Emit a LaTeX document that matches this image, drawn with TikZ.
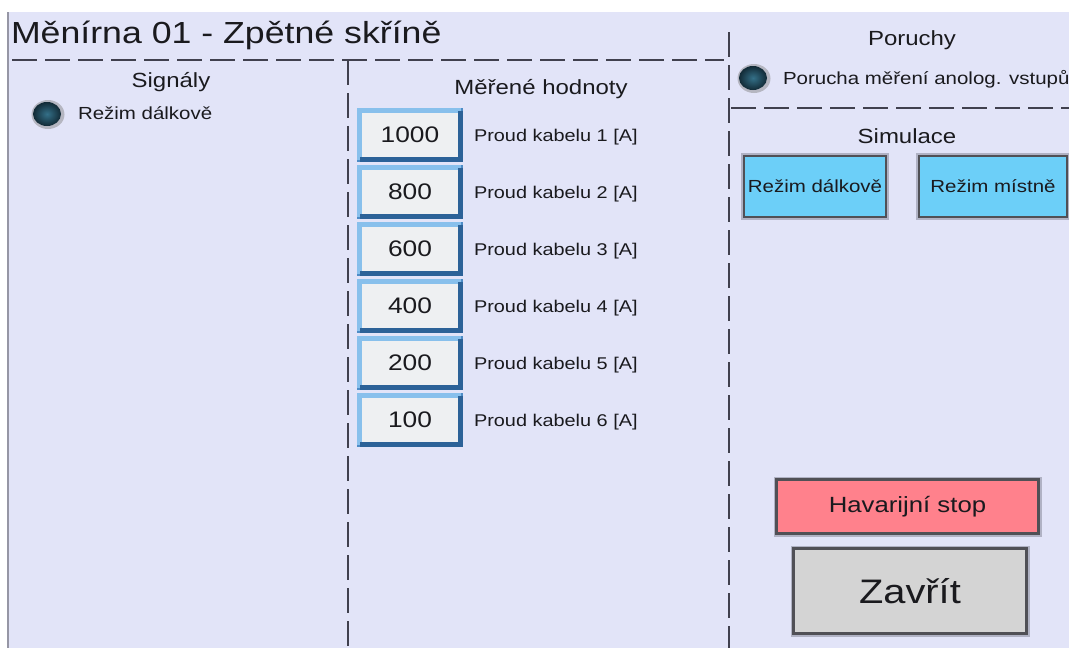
\documentclass[tikz,border=0pt]{standalone}
\usepackage{fontspec}
\setmainfont[FakeStretch=1.17]{Liberation Sans}
\usetikzlibrary{shapes.geometric}
\definecolor{bgcol}{RGB}{226,228,248}
\definecolor{linegray}{RGB}{64,64,78}
\definecolor{edgegray}{RGB}{150,150,165}
\definecolor{txt}{RGB}{26,26,30}
\definecolor{valmid}{RGB}{78,140,198}
\definecolor{vallight}{RGB}{136,192,236}
\definecolor{valdark}{RGB}{44,98,152}
\definecolor{valfill}{RGB}{238,240,242}
\definecolor{btnblue}{RGB}{108,207,248}
\definecolor{btnred}{RGB}{255,129,140}
\definecolor{btngray}{RGB}{212,212,212}
\definecolor{btnedge}{RGB}{80,80,86}
\definecolor{halocol}{RGB}{176,178,196}
\definecolor{ledin}{RGB}{52,112,136}
\definecolor{ledout}{RGB}{18,42,54}
\newcommand\fsz[1]{\fontsize{#1}{#1}\selectfont}
\begin{document}
\begin{tikzpicture}[x=1pt,y=-1pt,
  every node/.style={inner sep=0pt, outer sep=0pt, text=txt},
  sepline/.style={draw=linegray, line width=1.8pt, dash pattern=on 25pt off 8pt},
  headtxt/.style={font=\fsz{20.5}},
  smalltxt/.style={font=\fsz{17.5}},
  ledhalo/.style={ellipse, minimum width=33pt, minimum height=29pt, fill=gray, opacity=0.45},
  ledcore/.style={ellipse, minimum width=28pt, minimum height=24pt, inner color=ledin, outer color=ledout},
  valbox/.style={rectangle, draw=valmid, line width=5pt, fill=valfill, minimum width=101pt, minimum height=49pt, font=\fsz{22.5}},
  bevlight/.style={draw=vallight, line width=5pt},
  bevdark/.style={draw=valdark, line width=5pt},
  btnbox/.style={rectangle, draw=btnedge, line width=2.5pt, preaction={draw=halocol, line width=6pt}},
  simbtn/.style={btnbox, fill=btnblue, minimum height=61pt, font=\fsz{17.5}}
]
\useasboundingbox (0,0) rectangle (1069,648);
\fill[white] (0,0) rectangle (1069,648);
\fill[bgcol] (9,12) rectangle (1069,648);
\draw[edgegray, line width=2pt] (8,12) -- (8,648);

% title
\node[anchor=base west, font=\fsz{30.5}] (title) at (11,43) {Měnírna 01 - Zpětné skříně};

% separators
\coordinate (t1) at (12,60);
\coordinate (t2) at (724,60);
\coordinate (v1a) at (348,60);
\coordinate (v1b) at (348,648);
\coordinate (v2a) at (729,32);
\coordinate (v2b) at (729,648);
\coordinate (h2a) at (731,108);
\coordinate (h2b) at (1069,108);
\draw[sepline] (t1) -- (t2);
\draw[sepline] (v1a) -- (v1b);
\draw[sepline] (v2a) -- (v2b);
\draw[sepline] (h2a) -- (h2b);

% Signaly
\node[headtxt, anchor=base] (signaly) at (171,87) {Signály};
\node[ledhalo] (led1h) at (48,114.5) {};
\node[ledcore] (led1) at (47,114) {};
\node[smalltxt, anchor=base west] (led1t) at (78,119) {Režim dálkově};

% Merene hodnoty
\node[headtxt, anchor=base] (mereni) at (541,94) {Měřené hodnoty};
\foreach \i/\v in {1/1000,2/800,3/600,4/400,5/200,6/100}{
  \pgfmathsetmacro{\ytop}{108+57*(\i-1)}
  \node[valbox] (val\i) at (410,\ytop+27) {\v};
  \draw[bevlight] (val\i.south west) -- (val\i.north west) -- (val\i.north east);
  \draw[bevdark] (val\i.north east) -- (val\i.south east) -- (val\i.south west);
  \node[font=\fsz{17}, anchor=base west] (lab\i) at (474,\ytop+33) {Proud kabelu \i{} [A]};
}

% Poruchy
\node[headtxt, anchor=base] (poruchy) at (912,45) {Poruchy};
\node[ledhalo] (led2h) at (754,78.5) {};
\node[ledcore] (led2) at (753,78) {};
\node[smalltxt, anchor=base west] (led2t) at (783,84) {Porucha měření anolog. vstupů};

% Simulace
\node[headtxt, anchor=base] (simulace) at (907,143) {Simulace};
\node[simbtn, minimum width=142pt] (sim1) at (815,186.5) {Režim dálkově};
\node[simbtn, minimum width=148pt] (sim2) at (993,186.5) {Režim místně};

% bottom buttons
\node[btnbox, fill=btnred, minimum width=262pt, minimum height=54pt, font=\fsz{22}] (havar) at (907.5,506.5) {Havarijní stop};
\node[btnbox, fill=btngray, line width=3pt, minimum width=233pt, minimum height=85pt, font=\fsz{34}] (zavrit) at (910,591) {Zavřít};
\end{tikzpicture}
\end{document}
